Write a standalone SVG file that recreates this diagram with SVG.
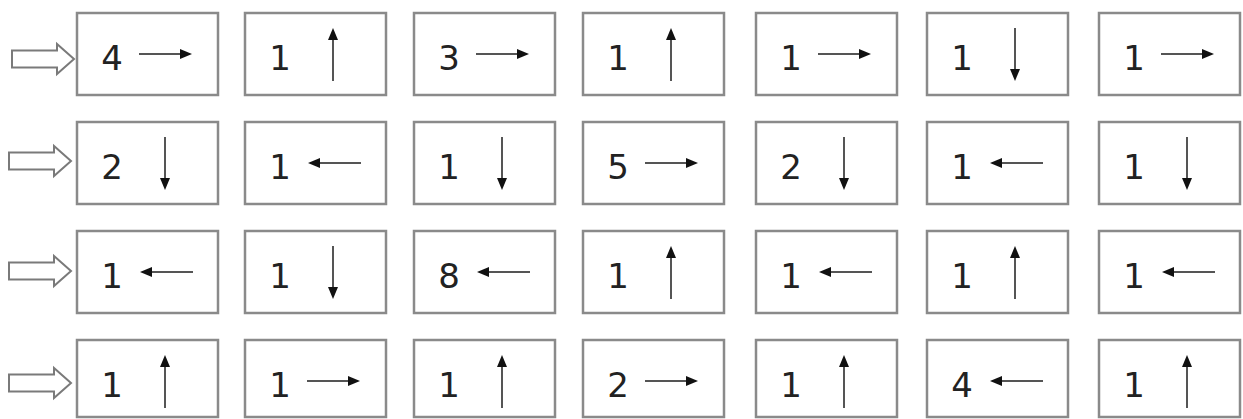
<svg xmlns="http://www.w3.org/2000/svg" width="1243" height="419" viewBox="0 0 1243 419">
<style>
.box{fill:#fff;stroke:#8a8a8a;stroke-width:2.5}
.num{font-family:"DejaVu Sans",sans-serif;font-size:34px;fill:#222;text-anchor:middle}
.ar{stroke:#555;stroke-width:2;fill:none;marker-end:url(#h)}
.in{fill:#fff;stroke:#7a7a7a;stroke-width:2}
</style>
<defs>
<marker id="h" viewBox="0 0 12 10" refX="6" refY="5" markerWidth="12" markerHeight="10" markerUnits="userSpaceOnUse" orient="auto">
<path d="M0,0 L12,5 L0,10 Z" fill="#111"/>
</marker>
<path id="entry" d="M-62,-8.5 L-17,-8.5 L-17,-15 L0,0 L-17,15 L-17,8.5 L-62,8.5 Z"/>
<line id="R" x1="62" y1="41" x2="109" y2="41"/>
<line id="L" x1="116" y1="41" x2="69" y2="41"/>
<line id="U" x1="88" y1="68" x2="88" y2="21"/>
<line id="D" x1="88" y1="15" x2="88" y2="62"/>
<rect id="bx" x="0" y="0" width="141" height="82"/>
<rect id="bx4" x="0" y="0" width="141" height="77"/>
</defs>
<rect width="1243" height="419" fill="#fff"/>
<g id="connectors">
<use href="#entry" class="in" x="74" y="59"/>
<use href="#entry" class="in" x="71" y="161"/>
<use href="#entry" class="in" x="71" y="271"/>
<use href="#entry" class="in" x="71" y="383"/>
</g>
<!-- Row 1 -->
<g id="r1c1" transform="translate(77,13)"><use href="#bx" class="box"/><text class="num" x="35" y="57">4</text><use href="#R" class="ar"/></g>
<g id="r1c2" transform="translate(245,13)"><use href="#bx" class="box"/><text class="num" x="35" y="57">1</text><use href="#U" class="ar"/></g>
<g id="r1c3" transform="translate(414,13)"><use href="#bx" class="box"/><text class="num" x="35" y="57">3</text><use href="#R" class="ar"/></g>
<g id="r1c4" transform="translate(583,13)"><use href="#bx" class="box"/><text class="num" x="35" y="57">1</text><use href="#U" class="ar"/></g>
<g id="r1c5" transform="translate(756,13)"><use href="#bx" class="box"/><text class="num" x="35" y="57">1</text><use href="#R" class="ar"/></g>
<g id="r1c6" transform="translate(927,13)"><use href="#bx" class="box"/><text class="num" x="35" y="57">1</text><use href="#D" class="ar"/></g>
<g id="r1c7" transform="translate(1099,13)"><use href="#bx" class="box"/><text class="num" x="35" y="57">1</text><use href="#R" class="ar"/></g>
<!-- Row 2 -->
<g id="r2c1" transform="translate(77,122)"><use href="#bx" class="box"/><text class="num" x="35" y="57">2</text><use href="#D" class="ar"/></g>
<g id="r2c2" transform="translate(245,122)"><use href="#bx" class="box"/><text class="num" x="35" y="57">1</text><use href="#L" class="ar"/></g>
<g id="r2c3" transform="translate(414,122)"><use href="#bx" class="box"/><text class="num" x="35" y="57">1</text><use href="#D" class="ar"/></g>
<g id="r2c4" transform="translate(583,122)"><use href="#bx" class="box"/><text class="num" x="35" y="57">5</text><use href="#R" class="ar"/></g>
<g id="r2c5" transform="translate(756,122)"><use href="#bx" class="box"/><text class="num" x="35" y="57">2</text><use href="#D" class="ar"/></g>
<g id="r2c6" transform="translate(927,122)"><use href="#bx" class="box"/><text class="num" x="35" y="57">1</text><use href="#L" class="ar"/></g>
<g id="r2c7" transform="translate(1099,122)"><use href="#bx" class="box"/><text class="num" x="35" y="57">1</text><use href="#D" class="ar"/></g>
<!-- Row 3 -->
<g id="r3c1" transform="translate(77,231)"><use href="#bx" class="box"/><text class="num" x="35" y="57">1</text><use href="#L" class="ar"/></g>
<g id="r3c2" transform="translate(245,231)"><use href="#bx" class="box"/><text class="num" x="35" y="57">1</text><use href="#D" class="ar"/></g>
<g id="r3c3" transform="translate(414,231)"><use href="#bx" class="box"/><text class="num" x="35" y="57">8</text><use href="#L" class="ar"/></g>
<g id="r3c4" transform="translate(583,231)"><use href="#bx" class="box"/><text class="num" x="35" y="57">1</text><use href="#U" class="ar"/></g>
<g id="r3c5" transform="translate(756,231)"><use href="#bx" class="box"/><text class="num" x="35" y="57">1</text><use href="#L" class="ar"/></g>
<g id="r3c6" transform="translate(927,231)"><use href="#bx" class="box"/><text class="num" x="35" y="57">1</text><use href="#U" class="ar"/></g>
<g id="r3c7" transform="translate(1099,231)"><use href="#bx" class="box"/><text class="num" x="35" y="57">1</text><use href="#L" class="ar"/></g>
<!-- Row 4 -->
<g id="r4c1" transform="translate(77,340)"><use href="#bx4" class="box"/><text class="num" x="35" y="57">1</text><use href="#U" class="ar"/></g>
<g id="r4c2" transform="translate(245,340)"><use href="#bx4" class="box"/><text class="num" x="35" y="57">1</text><use href="#R" class="ar"/></g>
<g id="r4c3" transform="translate(414,340)"><use href="#bx4" class="box"/><text class="num" x="35" y="57">1</text><use href="#U" class="ar"/></g>
<g id="r4c4" transform="translate(583,340)"><use href="#bx4" class="box"/><text class="num" x="35" y="57">2</text><use href="#R" class="ar"/></g>
<g id="r4c5" transform="translate(756,340)"><use href="#bx4" class="box"/><text class="num" x="35" y="57">1</text><use href="#U" class="ar"/></g>
<g id="r4c6" transform="translate(927,340)"><use href="#bx4" class="box"/><text class="num" x="35" y="57">4</text><use href="#L" class="ar"/></g>
<g id="r4c7" transform="translate(1099,340)"><use href="#bx4" class="box"/><text class="num" x="35" y="57">1</text><use href="#U" class="ar"/></g>
</svg>
